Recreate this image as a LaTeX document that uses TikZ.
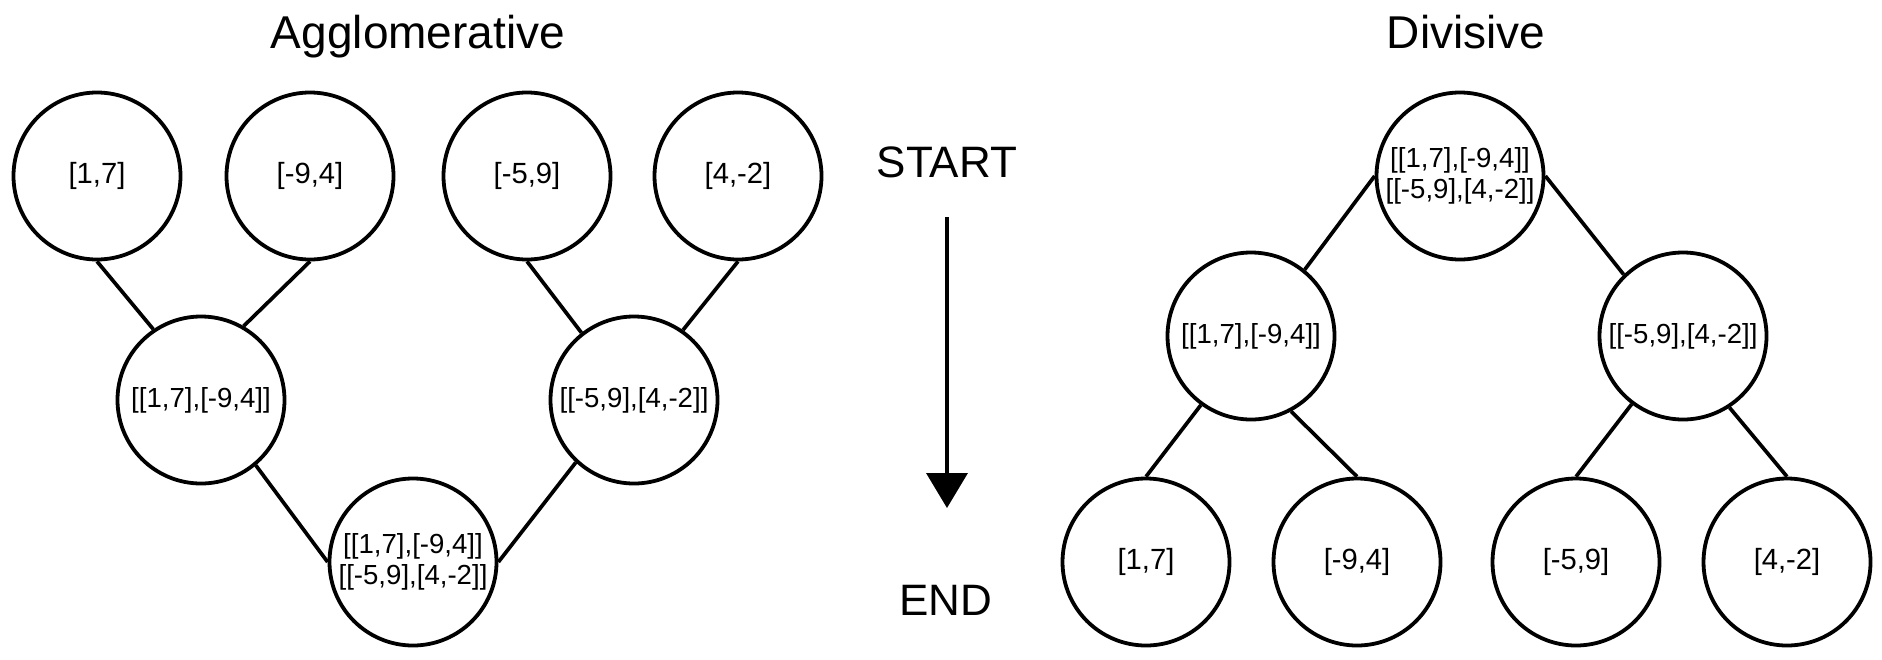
\documentclass[tikz,border=0pt]{standalone}
\usepackage{fontspec}
\setmainfont{Liberation Sans}
\usepackage{tikz}
\usetikzlibrary{arrows.meta}

\begin{document}
\begin{tikzpicture}[x=0.5pt,y=-0.5pt,>={Triangle[width=20.5pt,length=17.5pt]},
  clus/.style={draw,circle,line width=1.9pt,minimum size=83.5pt,inner sep=0pt,
    align=center,font=\fontsize{13.8}{15.5}\selectfont},
  leaf/.style={clus,font=\fontsize{14.6}{16}\selectfont},
  edge/.style={line width=1.85pt},
  ttl/.style={anchor=base,font=\fontsize{23}{27}\selectfont},
  stage/.style={anchor=base,font=\fontsize{22}{26}\selectfont}]
  \useasboundingbox (0,0) rectangle (1882,659);
  % agglomerative
  \node[ttl] (agg) at (418,48) {Agglomerative};
  \node[leaf] (a1) at (97,176) {[1,7]};
  \node[leaf] (a2) at (310,176) {[-9,4]};
  \node[leaf] (a3) at (527,176) {[-5,9]};
  \node[leaf] (a4) at (738,176) {[4,-2]};
  \node[clus] (al) at (201,400) {[[1,7],[-9,4]]};
  \node[clus] (ar) at (634,400) {[[-5,9],[4,-2]]};
  \node[clus] (ab) at (413,562) {[[1,7],[-9,4]]\\{}[[-5,9],[4,-2]]};
  \draw[edge] (a1.south) -- (al.124);
  \draw[edge] (a2.south) -- (al.60);
  \draw[edge] (a3.south) -- (ar.128);
  \draw[edge] (a4.south) -- (ar.55);
  \draw[edge] (al.-50) -- (ab.west);
  \draw[edge] (ar.-133) -- (ab.east);
  % start -> end
  \node[stage] (start) at (947,177) {START};
  \node[stage] (end) at (946,615) {END};
  \coordinate (top) at (947,217);
  \coordinate (tip) at (947,508);
  \draw[->,line width=1.85pt] (top) -- (tip);
  % divisive
  \node[ttl] (div) at (1466,48) {Divisive};
  \node[clus] (d0) at (1460,176) {[[1,7],[-9,4]]\\{}[[-5,9],[4,-2]]};
  \node[clus] (dl) at (1251,336) {[[1,7],[-9,4]]};
  \node[clus] (dr) at (1683,336) {[[-5,9],[4,-2]]};
  \node[leaf] (d1) at (1146,562) {[1,7]};
  \node[leaf] (d2) at (1357,562) {[-9,4]};
  \node[leaf] (d3) at (1576,562) {[-5,9]};
  \node[leaf] (d4) at (1787,562) {[4,-2]};
  \draw[edge] (d0.west) -- (dl.51);
  \draw[edge] (d0.east) -- (dr.134);
  \draw[edge] (dl.-126) -- (d1.north);
  \draw[edge] (dl.-62) -- (d2.north);
  \draw[edge] (dr.-127) -- (d3.north);
  \draw[edge] (dr.-57) -- (d4.north);
\end{tikzpicture}
\end{document}
